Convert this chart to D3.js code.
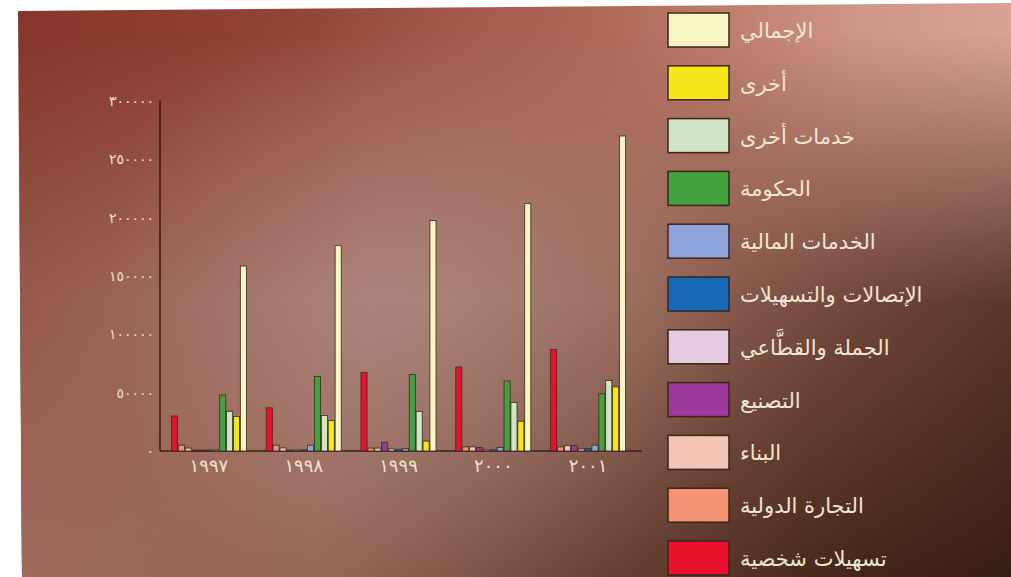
<!DOCTYPE html>
<html lang="ar">
<head>
<meta charset="utf-8">
<script src="https://cdn.jsdelivr.net/npm/d3@7"></script>
<style>
  html, body { margin: 0; padding: 0; background: #ffffff; }
  svg { display: block; }
  text { font-family: "DejaVu Sans", sans-serif; }
</style>
</head>
<body>
<svg id="chart" width="1011" height="577"></svg>
<script>
// ---- data (values per year, 1997–2001) ----
const years = ["1997", "1998", "1999", "2000", "2001"];
const yearLabels = ["١٩٩٧", "١٩٩٨", "١٩٩٩", "٢٠٠٠", "٢٠٠١"];
const yTicks = [0, 50000, 100000, 150000, 200000, 250000, 300000];

const personalLoans   = [30000, 37000, 67500, 72000, 87000];
const foreignTrade    = [5000, 5000, 2500, 3500, 3500];
const construction    = [2500, 2700, 2500, 3500, 4500];
const manufacturing   = [800, 800, 7500, 3000, 4500];
const wholesaleRetail = [700, 900, 1800, 1000, 1700];
const telecomUtils    = [900, 1000, 1500, 1000, 2000];
const financial       = [1000, 5000, 2000, 3000, 5000];
const government      = [48000, 64000, 65500, 60000, 49000];
const otherServices   = [34000, 30500, 34000, 41500, 60500];
const others          = [29500, 26000, 8500, 25500, 55000];
const total           = [158500, 176000, 197500, 212000, 270000];

// series in bar order (left to right inside each year)
const seriesNames = [
  "تسهيلات شخصية", "التجارة الدولية", "البناء", "التصنيع", "الجملة والقطَّاعي",
  "الإتصالات والتسهيلات", "الخدمات المالية", "الحكومة", "خدمات أخرى", "أخرى", "الإجمالي"
];
const seriesColors = [
  "#e8122c", "#f39272", "#f4c4b4", "#9c3a9a", "#e6cae2",
  "#1768b6", "#8fa4da", "#44a23e", "#d0e4c6", "#f6e61c", "#f8f5c4"
];
const seriesValues = [
  personalLoans, foreignTrade, construction, manufacturing, wholesaleRetail,
  telecomUtils, financial, government, otherServices, others, total
];

const toArabicDigits = n => String(n).replace(/[0-9]/g, d => "٠١٢٣٤٥٦٧٨٩"[+d]);

const svg = d3.select("#chart");
const defs = svg.append("defs");

// ---- background panel: piecewise colour field built from three horizontal gradients ----
function hGrad(id, stops) {
  const g = defs.append("linearGradient").attr("id", id)
    .attr("gradientUnits", "userSpaceOnUse")
    .attr("x1", 18).attr("y1", 0).attr("x2", 1011).attr("y2", 0);
  stops.forEach(([o, c]) => g.append("stop").attr("offset", o).attr("stop-color", c));
}
function vMask(id, stops) {
  const g = defs.append("linearGradient").attr("id", id + "G")
    .attr("gradientUnits", "userSpaceOnUse")
    .attr("x1", 0).attr("y1", 0).attr("x2", 0).attr("y2", 577);
  stops.forEach(([o, a]) => g.append("stop").attr("offset", o).attr("stop-color", "#fff").attr("stop-opacity", a));
  defs.append("mask").attr("id", id)
    .attr("maskUnits", "userSpaceOnUse").attr("x", 0).attr("y", 0).attr("width", 1011).attr("height", 577)
    .append("rect").attr("width", 1011).attr("height", 577).attr("fill", `url(#${id}G)`);
}
hGrad("rowTop", [[0, "#86362a"], [0.3, "#934536"], [0.6, "#b06a5a"], [0.85, "#cf9686"], [1, "#d9a294"]]);
hGrad("rowMid", [[0, "#965a4a"], [0.35, "#a67a72"], [0.62, "#966858"], [0.85, "#70463a"], [1, "#5a382a"]]);
hGrad("rowBot", [[0, "#a06a5a"], [0.3, "#946656"], [0.6, "#664032"], [0.8, "#46291a"], [1, "#381e12"]]);
vMask("maskMid", [[0, 0], [0.06, 0], [0.52, 1], [1, 1]]);
vMask("maskBot", [[0, 0], [0.52, 0], [1, 1]]);

const glow = defs.append("radialGradient").attr("id", "glow")
  .attr("gradientUnits", "userSpaceOnUse").attr("cx", 420).attr("cy", 300).attr("r", 320);
glow.append("stop").attr("offset", 0).attr("stop-color", "#b8948c").attr("stop-opacity", 0.4);
glow.append("stop").attr("offset", 1).attr("stop-color", "#b8948c").attr("stop-opacity", 0);

const panelPath = "M18,11 L1011,3 L1011,577 L22,577 Z";
const panel = svg.append("g");
panel.append("path").attr("d", panelPath).attr("fill", "url(#rowTop)");
panel.append("path").attr("d", panelPath).attr("fill", "url(#rowMid)").attr("mask", "url(#maskMid)");
panel.append("path").attr("d", panelPath).attr("fill", "url(#rowBot)").attr("mask", "url(#maskBot)");
panel.append("path").attr("d", panelPath).attr("fill", "url(#glow)");

// ---- scales ----
const y = d3.scaleLinear().domain([0, 300000]).range([451, 101]);
const x0 = d3.scaleBand().domain(years).range([171, 626]).paddingInner(0.2).paddingOuter(0);
const x1 = d3.scaleBand().domain(d3.range(seriesNames.length)).range([0, x0.bandwidth()]).padding(0);

// ---- y axis labels (Arabic-Indic digits) ----
const yAxis = svg.append("g").attr("transform", "translate(160,0)")
  .call(d3.axisLeft(y).tickValues(yTicks).tickSize(0).tickPadding(6).tickFormat(toArabicDigits));
yAxis.select(".domain").remove();
yAxis.selectAll("text")
  .attr("fill", "#f1e2cc").attr("font-size", 14).attr("letter-spacing", 5.6)
  .attr("font-family", "DejaVu Sans, sans-serif");

// axis lines
svg.append("line").attr("x1", 160).attr("x2", 160).attr("y1", y(300000) - 1).attr("y2", y(0))
  .attr("stroke", "#3a1e1a").attr("stroke-width", 1.6);
svg.append("line").attr("x1", 160).attr("x2", 642).attr("y1", y(0)).attr("y2", y(0))
  .attr("stroke", "#3a1e1a").attr("stroke-width", 1.4);

// ---- bars ----
const groups = svg.append("g").selectAll("g").data(years).join("g")
  .attr("transform", d => `translate(${x0(d)},0)`);
groups.selectAll("rect")
  .data((yr, yi) => seriesValues.map((vals, si) => ({ si, v: vals[yi] })))
  .join("rect")
  .attr("x", d => x1(d.si) + 0.4)
  .attr("width", x1.bandwidth() - 0.8)
  .attr("y", d => y(d.v))
  .attr("height", d => y(0) - y(d.v))
  .attr("fill", d => seriesColors[d.si])
  .attr("stroke", "#3a2a1c").attr("stroke-width", 0.8);

// ---- year labels ----
const xAxis = svg.append("g").attr("transform", `translate(0,${y(0)})`)
  .call(d3.axisBottom(x0).tickSize(0).tickPadding(8).tickFormat((d, i) => yearLabels[i]));
xAxis.select(".domain").remove();
xAxis.selectAll("text")
  .attr("fill", "#f1e2cc").attr("font-size", 18).attr("letter-spacing", 3)
  .attr("font-family", "DejaVu Sans, sans-serif");

// ---- legend (top to bottom: total first) ----
const legendOrder = d3.range(seriesNames.length).reverse();
const legend = svg.append("g").selectAll("g").data(legendOrder).join("g")
  .attr("transform", (d, i) => `translate(668,${13 + i * 52.8})`);
legend.append("rect")
  .attr("width", 61).attr("height", 34)
  .attr("fill", d => seriesColors[d])
  .attr("stroke", "#3a241c").attr("stroke-width", 1.5);
legend.append("text")
  .attr("x", 72).attr("y", 18)
  .attr("dominant-baseline", "central")
  .attr("text-anchor", "start")
  .attr("fill", "#f3e6d2").attr("font-size", 21)
  .text(d => seriesNames[d]);
</script>
</body>
</html>
